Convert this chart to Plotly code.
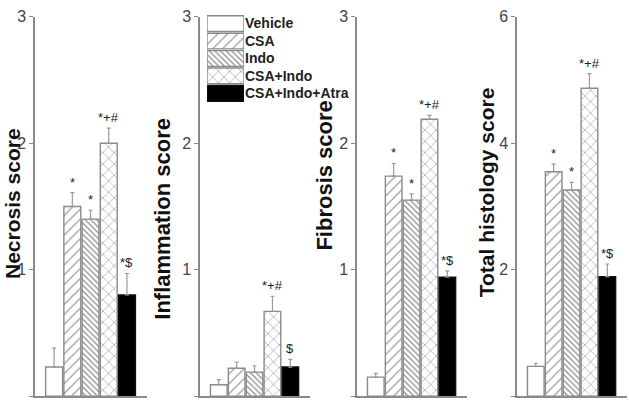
import plotly.graph_objects as go

# ---------------- data ----------------
groups = ["Vehicle", "CSA", "Indo", "CSA+Indo", "CSA+Indo+Atra"]

necrosis_mean = [0.23, 1.50, 1.40, 2.00, 0.80]
necrosis_err = [0.15, 0.11, 0.07, 0.12, 0.17]
necrosis_sig = ["", "*", "*", "*+#", "*$"]

inflam_mean = [0.09, 0.22, 0.19, 0.67, 0.23]
inflam_err = [0.04, 0.05, 0.05, 0.12, 0.06]
inflam_sig = ["", "", "", "*+#", "$"]

fibrosis_mean = [0.15, 1.74, 1.55, 2.19, 0.94]
fibrosis_err = [0.03, 0.10, 0.05, 0.03, 0.05]
fibrosis_sig = ["", "*", "*", "*+#", "*$"]

total_mean = [0.47, 3.55, 3.26, 4.87, 1.89]
total_err = [0.05, 0.12, 0.12, 0.23, 0.20]
total_sig = ["", "*", "*", "*+#", "*$"]

panel_titles = ["Necrosis score", "Inflammation score", "Fibrosis score", "Total histology score"]
panel_ymax = [3, 3, 3, 6]
panel_ticks = [[0, 1, 2, 3], [0, 1, 2, 3], [0, 1, 2, 3], [0, 2, 4, 6]]

# ---------------- styling ----------------
W, H = 629, 402
FONT = "Liberation Sans, Arial, sans-serif"
GRAY = "#8a8a8a"
pat_shape = ["", "/", "\\", "x", ""]
pat_size = [8, 7, 4, 8, 8]
pat_solid = [0.2, 0.16, 0.3, 0.13, 0.2]
bar_color = ["white", "white", "white", "white", "black"]
line_color = [GRAY, GRAY, GRAY, GRAY, "#111"]


def px_x(p):
    return p / W


def px_y(p):
    return (H - p) / H


def marker_for(j):
    m = dict(color=bar_color[j], line=dict(color=line_color[j], width=1.4))
    if pat_shape[j]:
        m["pattern"] = dict(shape=pat_shape[j], size=pat_size[j], solidity=pat_solid[j],
                            fgcolor=GRAY, bgcolor=bar_color[j], fillmode="replace")
    return m


y0_px, unit3_px = 396, 129 * 3
ydom = [px_y(y0_px), px_y(y0_px - unit3_px)]
xdoms = [(35, 147), (200, 310), (357, 467), (517, 627)]
title_pos = [(12, 200, 21), (163, 215, 22), (325, 171, 22), (486, 188, 21)]

fig = go.Figure()
annotations = []

panels = [
    (necrosis_mean, necrosis_err, necrosis_sig),
    (inflam_mean, inflam_err, inflam_sig),
    (fibrosis_mean, fibrosis_err, fibrosis_sig),
    (total_mean, total_err, total_sig),
]

for i, (m, e, sig) in enumerate(panels):
    k = "" if i == 0 else str(i + 1)
    for j, g in enumerate(groups):
        fig.add_trace(go.Bar(
            x=[j], y=[m[j]], width=0.93, name=g,
            xaxis="x" + k, yaxis="y" + k,
            marker=marker_for(j),
            error_y=dict(type="data", symmetric=False, array=[e[j]], arrayminus=[0],
                         color="#999", thickness=1.2, width=2),
            showlegend=False, hoverinfo="skip",
        ))
        if sig[j]:
            annotations.append(dict(
                x=j, y=m[j] + e[j], xref="x" + k, yref="y" + k,
                text=sig[j], showarrow=False, yanchor="bottom", yshift=1,
                font=dict(family=FONT, size=13, color="#222")))
    fig.layout["xaxis" + k] = dict(
        domain=[px_x(xdoms[i][0]), px_x(xdoms[i][1])], range=[-1.05, 5.1],
        showline=True, linecolor=GRAY, linewidth=1.5, showticklabels=False,
        ticks="", showgrid=False, zeroline=False, fixedrange=True, anchor="y" + k)
    fig.layout["yaxis" + k] = dict(
        domain=ydom, range=[0, panel_ymax[i]], tickvals=panel_ticks[i],
        showline=True, linecolor=GRAY, linewidth=1.5, ticks="outside",
        ticklen=4, tickcolor=GRAY, tickwidth=1.2,
        tickfont=dict(family=FONT, size=16, color="#444"),
        showgrid=False, zeroline=False, fixedrange=True, anchor="x" + k)
    tx, ty, fs = title_pos[i]
    annotations.append(dict(
        x=px_x(tx), y=px_y(ty), xref="paper", yref="paper",
        text=panel_titles[i], textangle=-90, showarrow=False,
        xanchor="center", yanchor="middle", borderpad=0,
        font=dict(family=FONT, size=fs, color="#111", weight="bold")))

# ---------------- legend drawn as a small bar axis ----------------
for j, g in enumerate(groups):
    fig.add_trace(go.Bar(
        y=[g], x=[1], orientation="h", width=0.9, name=g,
        xaxis="x5", yaxis="y5", marker=marker_for(j),
        showlegend=False, hoverinfo="skip",
    ))
fig.layout["xaxis5"] = dict(domain=[px_x(207), px_x(244)], range=[0, 1], visible=False,
                            anchor="y5", fixedrange=True)
fig.layout["yaxis5"] = dict(domain=[px_y(96), px_y(7)], autorange="reversed",
                            categoryorder="array", categoryarray=groups,
                            side="right", anchor="x5", showline=False, ticks="",
                            showgrid=False, zeroline=False, fixedrange=True,
                            tickfont=dict(family=FONT, size=14, color="#222", weight="bold"))

fig.update_layout(
    width=W, height=H,
    margin=dict(l=0, r=0, t=0, b=0),
    paper_bgcolor="white", plot_bgcolor="white",
    barmode="overlay", annotations=annotations,
    font=dict(family=FONT),
)

fig.write_html("out.html", config={"displayModeBar": False},
               post_script="document.body.style.margin='0px';document.body.style.overflow='hidden';")
